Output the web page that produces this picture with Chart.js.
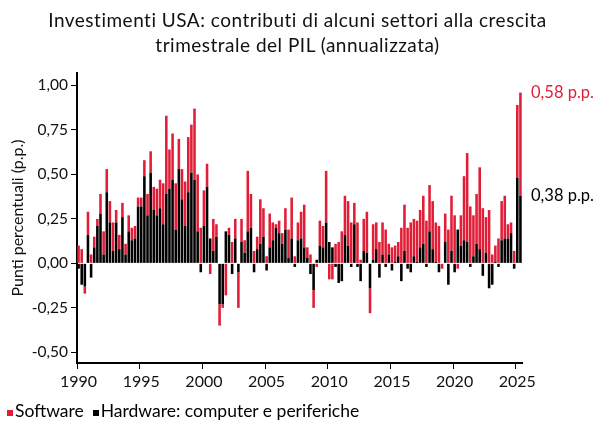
<!DOCTYPE html>
<html>
<head>
<meta charset="utf-8">
<script src="https://cdn.jsdelivr.net/npm/chart.js@4/dist/chart.umd.min.js"></script>
<style>
  html, body { margin: 0; padding: 0; background: #fff; }
  #wrap { position: relative; width: 595px; height: 421px; }
  #title { position: absolute; left: 0; top: 7px; width: 595px; text-align: center; font-family: Lato, "Noto Sans", sans-serif; font-size: 19px; letter-spacing: 0.5px; line-height: 25px; color: #111; }
  #legend { position: absolute; left: 7px; top: 401px; font-family: Lato, "Noto Sans", sans-serif; font-size: 17.5px; line-height: 20px; color: #000; white-space: nowrap; }
  #legend .sw { display: inline-block; width: 6px; height: 6px; margin-right: 2px; vertical-align: 1px; }
  #legend .item { margin-right: 9px; }
</style>
</head>
<body>
<div id="wrap">
  <canvas id="c" width="595" height="421"></canvas>
  <div id="title"></div>
  <div id="legend"></div>
</div>
<script>
const title = ["Investimenti USA: contributi di alcuni settori alla crescita", "trimestrale del PIL (annualizzata)"];
const yTitle = "Punti percentuali (p.p.)";
const seriesNames = ["Software", "Hardware: computer e periferiche"];
const colors = { software: "#e01e37", hardware: "#000000" };
const firstYear = 1990;
const yTickValues = [-0.5, -0.25, 0, 0.25, 0.5, 0.75, 1.0];

// quarterly values, 1990 Q1 - 2025 Q2 (percentage points)
const hardware = [
  -0.03, -0.12, -0.13, 0.16,
  -0.08, 0.09, 0.21, 0.28,
  0.05, 0.40, 0.23, 0.07,
  0.23, 0.08, 0.26, 0.05,
  0.18, 0.13, 0.14, 0.32,
  0.32, 0.49, 0.27, 0.51,
  0.30, 0.27, 0.31, 0.22,
  0.39, 0.42, 0.47, 0.19,
  0.53, 0.36, 0.21, 0.40,
  0.51, 0.47, 0.18, -0.05,
  0.21, 0.43, 0.14, 0.07,
  0.15, -0.23, -0.23, 0.18,
  0.16, -0.06, 0.14, -0.05,
  0.12, 0.06, 0.18, 0.20,
  -0.05, 0.08, 0.11, 0.15,
  -0.04, 0.09, 0.13, 0.20,
  0.17, 0.11, 0.19, 0.03,
  0.14, -0.02, 0.13, 0.14,
  0.09, 0.03, -0.06, -0.15,
  0.02, 0.10, 0.09, 0.23,
  0.12, 0.09, -0.02, -0.11,
  -0.10, 0.16, 0.10, -0.02,
  0.22, -0.02, -0.10, 0.07,
  0.06, -0.14, 0.02, 0.08,
  -0.08, 0.05, -0.02, 0.05,
  -0.04, 0.01, 0.04, -0.10,
  0.07, -0.03, -0.05, 0.04,
  0.01, 0.09, 0.11, -0.02,
  0.18, 0.08, 0.01, -0.05,
  0.00, 0.12, -0.12, 0.07,
  -0.05, 0.19, 0.10, 0.13,
  0.12, -0.02, 0.04, 0.11,
  0.08, -0.07, 0.06, -0.14,
  -0.12, 0.01, -0.02, 0.13,
  0.14, 0.14, 0.17, -0.03,
  0.48, 0.38
];
const software = [
  0.10, 0.08, -0.04, 0.13,
  0.05, 0.06, 0.04, 0.11,
  0.13, 0.13, 0.12, 0.16,
  0.07, 0.08, 0.08, 0.06,
  0.09, 0.07, 0.07, 0.05,
  0.05, 0.09, 0.12, 0.12,
  0.13, 0.15, 0.16, 0.23,
  0.44, 0.22, 0.26, 0.26,
  0.17, 0.17, 0.25, 0.31,
  0.27, 0.40, 0.32, 0.20,
  0.20, 0.13, -0.06, 0.18,
  0.07, -0.12, -0.02, -0.18,
  0.04, 0.12, 0.11, -0.20,
  0.13, 0.07, 0.34, 0.19,
  0.07, 0.07, 0.25, 0.16,
  0.04, 0.19, 0.10, 0.02,
  0.07, 0.06, 0.12, 0.16,
  0.23, 0.04, 0.10, 0.15,
  0.24, 0.06, 0.05, -0.10,
  -0.02, 0.14, 0.12, 0.29,
  -0.09, -0.09, 0.11, 0.12,
  0.18, 0.22, 0.25, 0.23,
  0.12, 0.23, 0.02, 0.18,
  0.23, -0.14, 0.20, 0.15,
  0.12, 0.18, 0.19, 0.06,
  0.09, 0.09, 0.08, 0.20,
  0.26, 0.20, 0.23, 0.21,
  0.23, 0.21, 0.27, 0.24,
  0.26, 0.27, 0.22, 0.21,
  -0.03, 0.16, 0.19, 0.31,
  0.27, -0.03, 0.17, 0.36,
  0.50, 0.32, 0.23, 0.28,
  0.46, 0.31, 0.20, 0.30,
  0.05, 0.09, 0.14, 0.22,
  0.24, 0.08, 0.06, 0.07,
  0.41, 0.58
];

const categories = hardware.map((_, i) => (firstYear + Math.floor(i / 4)) + " T" + (i % 4 + 1));
const fmt = v => v.toFixed(2).replace('.', ',');
const FONT = "Lato, 'Noto Sans', sans-serif";

// title and legend (HTML text)
const t = document.getElementById('title');
title.forEach(line => { const d = document.createElement('div'); d.textContent = line; t.appendChild(d); });
const leg = document.getElementById('legend');
[[seriesNames[0], colors.software], [seriesNames[1], colors.hardware]].forEach(([n, c]) => {
  const s = document.createElement('span'); s.className = 'item';
  const b = document.createElement('span'); b.className = 'sw'; b.style.background = c;
  s.appendChild(b); s.appendChild(document.createTextNode(n));
  leg.appendChild(s);
});

const endLabels = {
  id: 'endLabels',
  afterDatasetsDraw(chart) {
    const y = chart.scales.y, ctx = chart.ctx, n = hardware.length - 1;
    const x = chart.chartArea.right + 9;
    ctx.save();
    ctx.font = "16.5px " + FONT;
    ctx.textBaseline = 'middle';
    ctx.textAlign = 'left';
    ctx.fillStyle = colors.software;
    ctx.fillText(fmt(software[n]) + " p.p.", x, y.getPixelForValue(hardware[n] + software[n]));
    ctx.fillStyle = colors.hardware;
    ctx.fillText(fmt(hardware[n]) + " p.p.", x, y.getPixelForValue(hardware[n]));
    ctx.restore();
  }
};

new Chart(document.getElementById('c'), {
  type: 'bar',
  data: {
    labels: categories,
    datasets: [
      { label: seriesNames[1], data: hardware, backgroundColor: colors.hardware, barPercentage: 0.82, categoryPercentage: 1 },
      { label: seriesNames[0], data: software, backgroundColor: colors.software, barPercentage: 0.82, categoryPercentage: 1 }
    ]
  },
  options: {
    responsive: false,
    animation: false,
    devicePixelRatio: 1,
    layout: { padding: { top: 73, right: 73, bottom: 18, left: 0 } },
    plugins: {
      legend: { display: false },
      tooltip: { enabled: false },
      title: { display: false }
    },
    scales: {
      x: {
        stacked: true,
        afterFit: s => { s.height = 40; },
        grid: {
          offset: true, drawOnChartArea: false, tickLength: 6, lineWidth: 1,
          color: c => (c.tick && c.tick.label) ? '#000' : 'rgba(0,0,0,0)'
        },
        border: { display: true, color: '#000', width: 2 },
        ticks: {
          autoSkip: false, maxRotation: 0, minRotation: 0, padding: 3, color: '#111',
          font: { family: FONT, size: 16 },
          callback: (v, i) => (i % 4 === 0 && (firstYear + i / 4) % 5 === 0) ? String(firstYear + i / 4) : ''
        }
      },
      y: {
        stacked: true,
        min: -0.56, max: 1.07,
        afterFit: s => { s.width = 77; },
        afterBuildTicks: s => { s.ticks = yTickValues.map(v => ({ value: v })); },
        grid: { drawOnChartArea: false, tickLength: 6, color: '#000', lineWidth: 1 },
        border: { display: true, color: '#000', width: 2 },
        ticks: { padding: 3, color: '#111', font: { family: FONT, size: 15.5 }, callback: v => fmt(v) },
        title: { display: true, text: yTitle, color: '#111', font: { family: FONT, size: 16 }, padding: { top: 8, bottom: 0 } }
      }
    }
  },
  plugins: [endLabels]
});
</script>
</body>
</html>
